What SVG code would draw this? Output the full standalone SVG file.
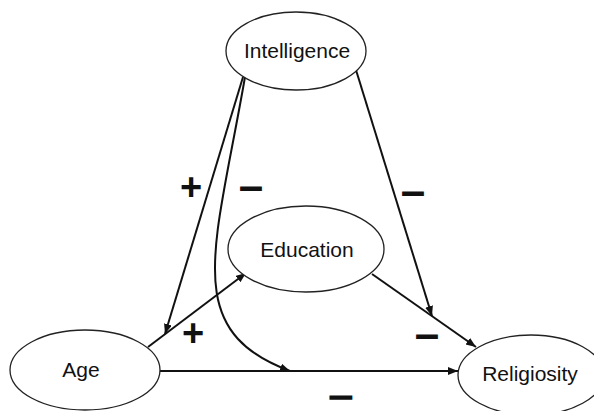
<svg xmlns="http://www.w3.org/2000/svg" width="594" height="411" viewBox="0 0 594 411">
<defs>
<style>
.node ellipse{fill:#fff;stroke:#222;stroke-width:1.3}
.node text{font-family:"Liberation Sans",Arial,sans-serif;font-size:21px;fill:#111;text-anchor:middle}
.edge{fill:none;stroke:#111;stroke-width:2}
.sign{font-family:"Liberation Sans",Arial,sans-serif;font-weight:bold;fill:#111;text-anchor:middle}
.plus{font-size:38px}
.minus{font-size:44px}
.minus-sm{font-size:27px;stroke:#111;stroke-width:1.4}
</style>
<marker id="arr" markerUnits="userSpaceOnUse" markerWidth="11" markerHeight="9" refX="10" refY="4" orient="auto">
<path d="M0,0 L10,4 L0,8 z" fill="#111"/>
</marker>
</defs>
<rect width="594" height="411" fill="#fff"/>
<g id="connectors">
<path class="edge" d="M243,77 L165,334" marker-end="url(#arr)"/>
<path class="edge" d="M245,77 C215,250 180,330 290,371" marker-end="url(#arr)"/>
<path class="edge" d="M148,347 L246,273" stroke-width="2.6" marker-end="url(#arr)"/>
<path class="edge" d="M356,70 L432,316" marker-end="url(#arr)"/>
<path class="edge" d="M372,274 L476,347" marker-end="url(#arr)"/>
<path class="edge" d="M160,371 L458,371" marker-end="url(#arr)"/>
</g>
<g id="intelligence" class="node">
<ellipse cx="296" cy="51" rx="70" ry="39"/>
<text x="297" y="58">Intelligence</text>
</g>
<g id="education" class="node">
<ellipse cx="306" cy="249" rx="78" ry="43"/>
<text x="307" y="257">Education</text>
</g>
<g id="age" class="node">
<ellipse cx="85" cy="370" rx="75" ry="40"/>
<text x="81" y="377">Age</text>
</g>
<g id="religiosity" class="node">
<ellipse cx="531" cy="375" rx="73" ry="40"/>
<text x="530" y="381">Religiosity</text>
</g>
<g id="labels">
<text class="sign plus" x="191" y="200">+</text>
<text class="sign minus" x="251" y="201">–</text>
<text class="sign minus" x="413" y="206">–</text>
<text class="sign plus" x="193" y="346">+</text>
<text class="sign minus" x="427" y="349">–</text>
<text class="sign minus-sm" transform="translate(341,405) scale(1.55,1)" x="0" y="0">–</text>
</g>
</svg>
